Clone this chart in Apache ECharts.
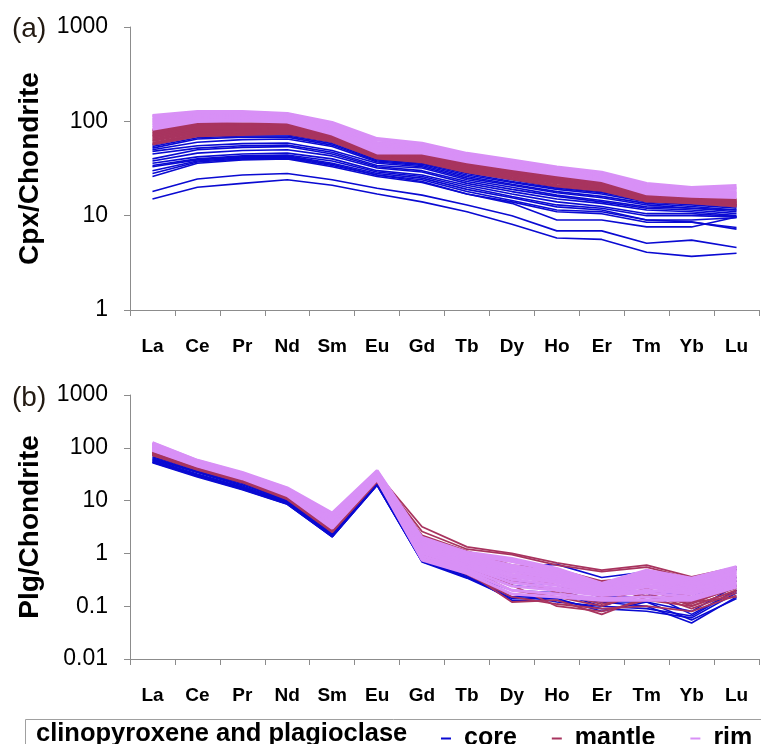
<!DOCTYPE html>
<html>
<head>
<meta charset="utf-8">
<script src="https://cdn.jsdelivr.net/npm/echarts@6/dist/echarts.min.js"></script>
<style>
html, body { margin: 0; padding: 0; background: #fff; }
#main { width: 761px; height: 744px; }
</style>
</head>
<body>
<div id="main"></div>
<script>
var ree = ['La', 'Ce', 'Pr', 'Nd', 'Sm', 'Eu', 'Gd', 'Tb', 'Dy', 'Ho', 'Er', 'Tm', 'Yb', 'Lu'];

// (a) clinopyroxene / chondrite
var cpxCore = [
    [56, 70, 72, 72, 60, 40, 37, 29, 24, 20, 18, 15, 14, 13],
    [54, 67, 70, 70, 58, 39, 36, 28, 23, 19.5, 17.5, 14.5, 13.5, 12.4],
    [52, 65, 68, 68, 56, 38, 35, 27, 22.5, 19, 17, 14, 13, 12],
    [50, 60, 64, 65, 54, 37, 34, 26, 21.5, 18, 16, 13.5, 12.5, 11.5],
    [48, 55, 58, 59, 49, 36, 33, 25, 21, 17.5, 15.5, 13, 12, 11],
    [45, 52, 55, 56, 47, 34, 32, 24, 20, 16.5, 14.5, 12.4, 12, 11.5],
    [40, 50, 53, 54, 45, 33, 30, 23, 19, 16, 14, 12, 11.5, 10.5],
    [38, 46, 49, 50, 43, 32, 29, 22, 18, 15, 13.5, 11.5, 11, 10],
    [36, 42, 45, 46, 40, 30, 27, 21, 17, 14, 12.5, 10.5, 10.5, 9.8],
    [34, 40, 43, 44, 38, 29, 26, 20, 16, 13, 12, 10, 10, 9.7],
    [33, 39, 42, 43, 36, 28, 25, 19, 15.5, 12.4, 11.5, 9, 8.6, 7.2],
    [30, 38, 41, 42, 35, 27, 24, 18, 14.5, 11.5, 11, 9, 9, 9.5],
    [28, 37, 40, 41, 34, 27, 23, 17, 14, 11, 10.5, 8.5, 8.5, 7.5],
    [26, 36, 39, 40, 33, 26, 22.5, 17, 13.5, 9, 9, 7.6, 7.6, 9.7],
    [18, 24.5, 27, 28, 24, 19.5, 16.5, 13, 10, 6.9, 6.9, 5.1, 5.5, 4.6],
    [15, 20, 22, 24, 21, 17, 14, 11, 8.1, 5.8, 5.6, 4.1, 3.7, 4.0]
];
var cpxMantle = [
    [81, 96, 95, 95, 72, 47, 46, 37, 31, 26, 23, 17, 16, 15],
    [78, 93, 92, 92, 70, 46, 45, 36, 30, 25.5, 22.5, 16.5, 15.5, 14.6],
    [75, 90, 89, 90, 69, 45, 44, 35, 29.5, 25, 22, 16, 15.3, 14.2],
    [72, 88, 87, 88, 67, 44.5, 43, 34, 29, 24, 21.5, 16, 15, 14],
    [70, 85, 85, 85, 66, 44, 42, 33.5, 28, 23.5, 21, 15.5, 14.8, 13.8],
    [67, 82, 82, 83, 65, 43, 41, 33, 27.5, 23, 20.5, 15.2, 14.5, 13.5],
    [64, 79, 80, 81, 64, 42.5, 40, 32, 27, 22.5, 20, 15, 14.3, 13.3],
    [62, 76, 78, 79, 63, 42, 39, 31, 26, 22, 19.5, 14.8, 14, 13],
    [59, 73, 75, 77, 62, 41, 38, 30, 25, 21, 19, 14.5, 13.8, 12.8],
    [57, 70, 72, 74, 61, 40.5, 37, 29, 24.5, 20.5, 18.5, 14.2, 13.6, 12.6]
];
var cpxRim = [
    [116, 128, 128, 122, 98, 66, 59, 46, 39, 33, 29, 22, 20, 21],
    [113, 125, 125, 120, 95, 63, 57, 45, 38, 32, 28, 21, 19.5, 20],
    [110, 122, 122, 118, 92, 60, 55, 44, 37, 31, 27.5, 20.5, 19, 19.5],
    [105, 120, 120, 115, 90, 58, 54, 43, 36, 30.5, 27, 20, 18.5, 19],
    [102, 117, 118, 112, 87, 56, 52, 42, 35, 30, 26, 19.5, 18, 18],
    [98, 113, 115, 110, 84, 54, 51, 41, 34, 29, 25.5, 19, 17.5, 17.5],
    [94, 110, 112, 107, 81, 52, 50, 40, 33, 28.5, 25, 18.5, 17, 17],
    [90, 107, 109, 104, 78, 50, 49, 39, 32.5, 28, 24.5, 18, 16.8, 16.5],
    [86, 103, 105, 101, 76, 48, 47, 38, 32, 27.5, 24, 17.5, 16.5, 16],
    [82, 99, 101, 98, 73, 46, 46, 37, 31.5, 27, 23.5, 17, 16, 15.5]
];

// (b) plagioclase / chondrite
var plgCore = [
    [72, 40, 24, 11, 2.6, 24, 1.6, 0.9, 0.55, 0.62, 0.35, 0.45, 0.25, 0.55],
    [68, 38, 22, 10.5, 2.5, 23, 1.2, 0.7, 0.45, 0.4, 0.25, 0.3, 0.2, 0.5],
    [65, 36, 21, 10, 2.4, 22, 1.0, 0.6, 0.35, 0.3, 0.18, 0.2, 0.15, 0.35],
    [62, 35, 20, 9.8, 2.3, 21, 0.9, 0.5, 0.3, 0.25, 0.15, 0.15, 0.12, 0.3],
    [60, 34, 19, 9.5, 2.3, 21, 0.8, 0.45, 0.25, 0.2, 0.12, 0.12, 0.08, 0.25],
    [58, 32, 18, 9.2, 2.2, 20.5, 0.75, 0.4, 0.2, 0.18, 0.1, 0.09, 0.065, 0.2],
    [56, 31, 17.5, 9, 2.15, 20, 0.72, 0.35, 0.15, 0.15, 0.12, 0.1, 0.048, 0.15],
    [54, 30, 17, 8.8, 2.1, 20, 0.7, 0.38, 0.13, 0.13, 0.09, 0.08, 0.06, 0.18],
    [53, 29, 16.5, 8.6, 2.05, 19.5, 0.7, 0.36, 0.17, 0.12, 0.1, 0.18, 0.07, 0.2],
    [52, 28, 16, 8.5, 2.05, 19.5, 0.69, 0.34, 0.14, 0.14, 0.08, 0.12, 0.055, 0.14]
];
var plgMantle = [
    [90, 50, 30, 14, 5.5, 33, 3.2, 1.33, 1.0, 0.66, 0.48, 0.6, 0.36, 0.55],
    [88, 48, 29, 13.5, 5.0, 32, 2.6, 1.2, 0.95, 0.6, 0.45, 0.55, 0.33, 0.5],
    [86, 47, 28, 13, 4.5, 31, 2.2, 1.1, 0.6, 0.5, 0.3, 0.35, 0.25, 0.35],
    [84, 46, 27, 12.8, 4.0, 30, 2.0, 1.0, 0.5, 0.35, 0.25, 0.3, 0.2, 0.3],
    [82, 45, 26, 12.5, 3.6, 29, 1.8, 0.9, 0.45, 0.3, 0.2, 0.25, 0.15, 0.25],
    [80, 44, 26, 12.2, 3.3, 28, 1.6, 0.8, 0.4, 0.25, 0.15, 0.2, 0.12, 0.22],
    [79, 43, 25, 12, 3.0, 27, 1.4, 0.7, 0.3, 0.2, 0.12, 0.22, 0.1, 0.2],
    [77, 42, 24, 11.5, 2.8, 26, 1.2, 0.5, 0.2, 0.15, 0.1, 0.18, 0.09, 0.18],
    [76, 41, 24, 11.2, 2.7, 25, 1.0, 0.45, 0.12, 0.13, 0.07, 0.15, 0.12, 0.15],
    [74, 40, 23, 11, 2.6, 24, 0.9, 0.4, 0.15, 0.11, 0.09, 0.1, 0.08, 0.16],
    [73, 39, 23, 10.8, 2.6, 23, 1.1, 0.55, 0.25, 0.1, 0.08, 0.13, 0.1, 0.2],
    [72, 38, 22, 10.5, 2.5, 22.5, 1.3, 0.6, 0.35, 0.18, 0.11, 0.16, 0.11, 0.24]
];
var plgRim = [
    [125, 58, 34, 17.4, 5.8, 37, 2.0, 1.05, 0.8, 0.52, 0.27, 0.48, 0.34, 0.56],
    [122, 57, 33, 17, 5.5, 36, 1.9, 1.0, 0.75, 0.5, 0.26, 0.45, 0.32, 0.54],
    [118, 56, 32.5, 16.5, 5.2, 35, 1.8, 0.95, 0.7, 0.45, 0.25, 0.42, 0.3, 0.5],
    [115, 55, 32, 16, 5.0, 34, 1.7, 0.9, 0.6, 0.42, 0.24, 0.4, 0.28, 0.47],
    [112, 54, 31, 15.5, 4.8, 33, 1.6, 0.85, 0.55, 0.4, 0.23, 0.36, 0.26, 0.44],
    [108, 53, 30, 15, 4.5, 32, 1.5, 0.8, 0.5, 0.36, 0.22, 0.33, 0.24, 0.4],
    [105, 52, 30, 14.8, 4.3, 31, 1.4, 0.75, 0.45, 0.33, 0.21, 0.3, 0.22, 0.38],
    [102, 51, 29, 14.5, 4.0, 30, 1.3, 0.7, 0.4, 0.3, 0.2, 0.28, 0.21, 0.35],
    [100, 50, 29, 14.2, 3.8, 30, 1.2, 0.65, 0.36, 0.28, 0.19, 0.25, 0.2, 0.33],
    [98, 49, 28, 14, 3.6, 29, 1.1, 0.6, 0.32, 0.25, 0.18, 0.23, 0.18, 0.3],
    [96, 48, 28, 13.5, 3.4, 28, 1.0, 0.55, 0.28, 0.22, 0.17, 0.2, 0.17, 0.28],
    [94, 47, 27, 13.2, 3.2, 27, 0.9, 0.5, 0.24, 0.2, 0.16, 0.18, 0.15, 0.26],
    [92, 46, 27, 13, 3.1, 26, 0.8, 0.46, 0.2, 0.17, 0.14, 0.15, 0.14, 0.24],
    [90, 45, 26, 12.5, 3.0, 25, 0.75, 0.42, 0.17, 0.15, 0.13, 0.13, 0.13, 0.23]
];

var colCore = '#0a0ad2';
var colMantle = '#a8345f';
var colRim = '#d890f6';

var series = [];
function addLines(rows, name, color, panel, width) {
    for (let i = 0; i < rows.length; i++) {
        series.push({
            type: 'line',
            name: name,
            xAxisIndex: panel,
            yAxisIndex: panel,
            data: rows[i],
            showSymbol: false,
            symbol: 'none',
            silent: true,
            lineStyle: { color: color, width: width },
            itemStyle: { color: color }
        });
    }
}
addLines(cpxCore, 'core', colCore, 0, 1.6);
addLines(cpxMantle, 'mantle', colMantle, 0, 2.4);
addLines(cpxRim, 'rim', colRim, 0, 2.6);
addLines(plgCore, 'core', colCore, 1, 1.6);
addLines(plgMantle, 'mantle', colMantle, 1, 1.8);
addLines(plgRim, 'rim', colRim, 1, 3);

function xAxisFor(i) {
    return {
        type: 'category',
        gridIndex: i,
        data: ree,
        boundaryGap: true,
        axisLine: { lineStyle: { color: '#8c8c8c', width: 1 } },
        axisTick: { show: true, interval: 0, length: 6, lineStyle: { color: '#8c8c8c' } },
        axisLabel: { interval: 0, color: '#000', fontWeight: 'bold', fontSize: 19, fontFamily: 'Liberation Sans', margin: 27 },
        splitLine: { show: false }
    };
}
function yAxisFor(i, min, name) {
    return {
        type: 'log',
        logBase: 10,
        gridIndex: i,
        min: min,
        max: 1000,
        name: name,
        nameLocation: 'middle',
        nameGap: 86,
        nameTextStyle: { color: '#000', fontWeight: 'bold', fontSize: 28, fontFamily: 'Liberation Sans' },
        axisLine: { show: true, lineStyle: { color: '#8c8c8c', width: 1 } },
        axisTick: { show: true, length: 6, lineStyle: { color: '#8c8c8c' } },
        axisLabel: {
            color: '#000', fontSize: 23, fontFamily: 'Liberation Sans', margin: 22,
            formatter: function (v) { return String(parseFloat(v.toPrecision(6))); }
        },
        splitLine: { show: false }
    };
}

var myChart = echarts.init(document.getElementById('main'));
var option = {
    animation: false,
    backgroundColor: '#fff',
    grid: [
        { left: 130, top: 27, width: 629, height: 283 },
        { left: 130, top: 395, width: 629, height: 264 }
    ],
    xAxis: [xAxisFor(0), xAxisFor(1)],
    yAxis: [yAxisFor(0, 1, 'Cpx/Chondrite'), yAxisFor(1, 0.01, 'Plg/Chondrite')],
    legend: {
        left: 436,
        top: 721,
        data: ['core', 'mantle', 'rim'],
        icon: 'rect',
        itemWidth: 10,
        itemHeight: 2,
        itemGap: 35,
        selectedMode: false,
        textStyle: { color: '#000', fontWeight: 'bold', fontSize: 25, fontFamily: 'Liberation Sans', padding: [0, 0, 0, 8] }
    },
    graphic: [
        { type: 'text', left: 12, top: 15, style: { text: '(a)', fontSize: 28, fontFamily: 'Liberation Sans', fill: '#231a12' } },
        { type: 'text', left: 12, top: 384, style: { text: '(b)', fontSize: 28, fontFamily: 'Liberation Sans', fill: '#231a12' } },
        { type: 'rect', shape: { x: 25.5, y: 719.5, width: 760, height: 40 }, style: { fill: 'none', stroke: '#a0a0a0', lineWidth: 1 } },
        { type: 'text', left: 36, top: 721, style: { text: 'clinopyroxene and plagioclase', fontSize: 25.5, fontWeight: 'bold', fontFamily: 'Liberation Sans', fill: '#000' } }
    ],
    series: series
};
myChart.setOption(option);
</script>
</body>
</html>
